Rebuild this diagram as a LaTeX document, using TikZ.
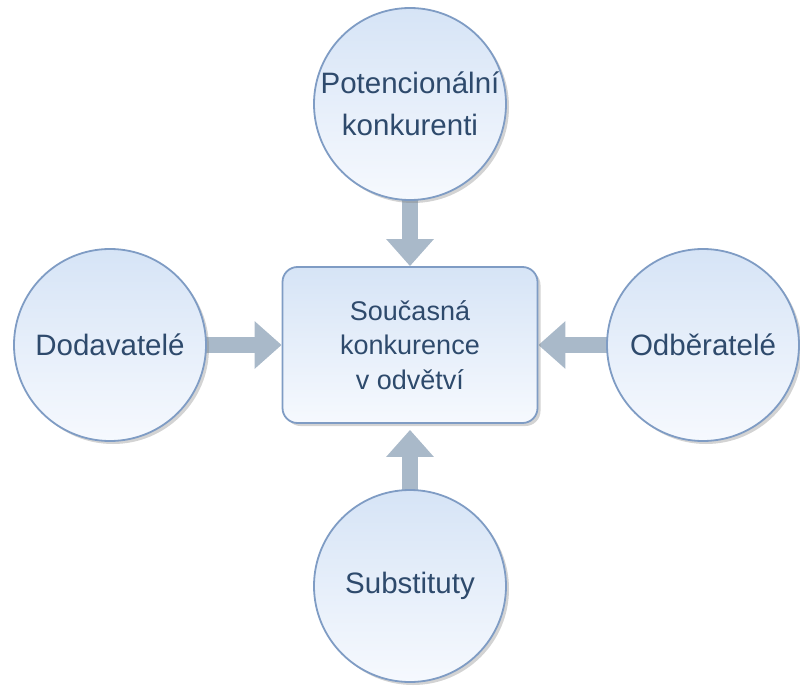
\documentclass[tikz,border=0pt]{standalone}
\usepackage{fontspec}
\setmainfont{Liberation Sans}
\usetikzlibrary{arrows.meta,shadows,backgrounds}
\definecolor{edgeblue}{HTML}{7F9CC4}
\definecolor{filltop}{HTML}{D6E4F6}
\definecolor{fillbot}{HTML}{F6F9FE}
\definecolor{txtblue}{HTML}{2E4A6C}
\definecolor{arrgray}{HTML}{A9B9C9}
\tikzset{
  base/.style={draw=edgeblue, line width=1.8pt, top color=filltop, bottom color=fillbot,
    text=txtblue, font=\fontsize{29.5}{42}\selectfont, align=center, inner sep=0pt,
    drop shadow={opacity=0.35, shadow xshift=3pt, shadow yshift=-3pt}},
  circ/.style={base, circle, minimum size=192pt},
  centerbox/.style={base, rounded corners=15pt, minimum width=255pt, minimum height=156pt,
    font=\fontsize{27}{34.5}\selectfont},
  bigarrow/.style={draw=arrgray, line width=16pt, shorten <=-6pt,
    -{Triangle[length=27pt,width=46pt]}}
}
\begin{document}
\begin{tikzpicture}[x=1pt,y=-1pt]
\useasboundingbox (0,0) rectangle (800,685);
\node[centerbox] (box) at (410,345) {Současná\\konkurence\\v odvětví};
\node[circ] (top) at (410,104) {Potencionální\\konkurenti};
\node[circ] (left) at (110,345) {Dodavatelé};
\node[circ] (right) at (703,345) {Odběratelé};
\node[circ] (bot) at (410,586) {Substituty};
\begin{scope}[on background layer]
\draw[bigarrow] (top) -- (box);
\draw[bigarrow] (left) -- (box);
\draw[bigarrow] (right) -- (box);
\draw[bigarrow, shorten >=6pt] (bot) -- (box);
\end{scope}
\end{tikzpicture}
\end{document}
